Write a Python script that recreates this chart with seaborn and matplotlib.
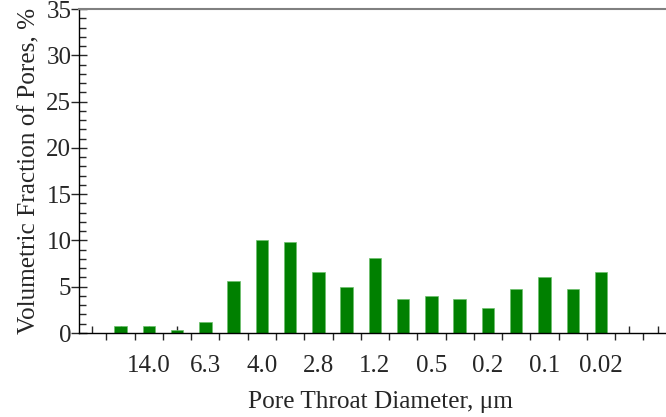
import matplotlib
matplotlib.use('Agg')
import numpy as np
import pandas as pd
import matplotlib.pyplot as plt
import seaborn as sns

sns.set_style('ticks')
plt.rcParams['font.family'] = ['Liberation Serif', 'DejaVu Serif']

# bar slots (0, 19, 20 are empty slots on the axis)
slots = list(range(1, 19))
fraction = [0.8, 0.8, 0.35, 1.2, 5.6, 10.05, 9.8, 6.6, 5.0, 8.1,
            3.7, 4.0, 3.7, 2.7, 4.8, 6.1, 4.8, 6.6]
label_slots = [2, 4, 6, 8, 10, 12, 14, 16, 18]
diameter_labels = ['14.0', '6.3', '4.0', '2.8', '1.2', '0.5', '0.2', '0.1', '0.02']

df = pd.DataFrame({'slot': slots, 'frac': fraction})

fig = plt.figure(figsize=(6.66, 4.17), dpi=100)
ax = fig.add_axes([79 / 666, 1 - 333 / 417, 1 - 79 / 666, 324 / 417])

sns.barplot(data=df, x='slot', y='frac', native_scale=True, width=0.44,
            color='#008000', saturation=1, edgecolor='#6cc06c', linewidth=0.5,
            ax=ax)

ax.set_xlim(-0.47, 20.3)
ax.set_ylim(0, 35)

major = list(range(0, 21))
labels = [diameter_labels[label_slots.index(s)] if s in label_slots else '' for s in major]
ax.set_xticks(major)
ax.set_xticklabels(labels)
ax.set_xticks(np.arange(0.5, 20.5, 1), minor=True)
ax.tick_params(axis='x', which='major', direction='in', length=5, width=1,
               pad=16, labelsize=18)
ax.tick_params(axis='x', which='minor', direction='out', length=5, width=1)

ax.set_yticks(range(0, 36, 5))
ax.set_yticks(range(0, 36, 1), minor=True)
ax.tick_params(axis='y', which='major', direction='inout', length=11, width=1,
               pad=0, labelsize=18)
ax.tick_params(axis='y', which='minor', direction='in', length=5, width=1)

ax.set_xlabel('Pore Throat Diameter, μm', fontsize=18.2, labelpad=9)
ax.xaxis.set_label_coords(0.513, -0.18)
ax.set_ylabel('Volumetric Fraction of Pores, %', fontsize=18.2, labelpad=4)

for s in ['left', 'bottom']:
    ax.spines[s].set_color('black')
    ax.spines[s].set_linewidth(1)
ax.spines['right'].set_visible(False)
ax.spines['top'].set_color('#808080')
ax.spines['top'].set_linewidth(1.5)

fig.savefig('out.png', dpi=100)
